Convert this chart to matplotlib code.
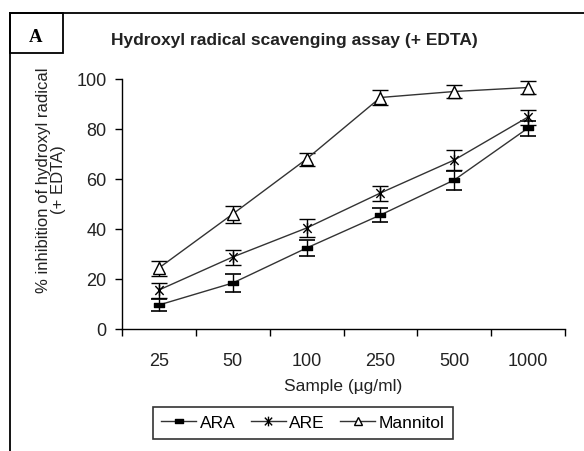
import matplotlib
matplotlib.use("Agg")
import matplotlib.pyplot as plt
from matplotlib.path import Path
from matplotlib.lines import Line2D
from matplotlib.patches import Rectangle

plt.rcParams['font.family'] = ['Liberation Sans', 'DejaVu Sans']

categories = ["25", "50", "100", "250", "500", "1000"]
ara = [9.6, 18.4, 32.4, 45.6, 59.6, 80.4]
ara_err = [2.4, 3.6, 3.2, 2.8, 3.8, 3.0]
are = [15.6, 28.8, 40.4, 54.4, 67.6, 84.8]
are_err = [3.0, 3.0, 3.6, 3.0, 4.0, 3.0]
mannitol = [24.4, 46.0, 68.0, 92.6, 95.0, 96.6]
mannitol_err = [3.0, 3.4, 2.6, 3.0, 2.6, 2.6]

title = "Hydroxyl radical scavenging assay (+ EDTA)"
ylabel = "% inhibition of hydroxyl radical\n(+ EDTA)"
xlabel = "Sample (\u00b5g/ml)"
yticks = [0, 20, 40, 60, 80, 100]

W, H = 584, 451
fig = plt.figure(figsize=(W / 100, H / 100), dpi=100)

ax = fig.add_axes([122 / W, 1 - 329 / H, (565 - 122) / W, (329 - 79) / H])

x = list(range(len(categories)))

bar_marker = Path([(-1, -0.4), (1, -0.4), (1, 0.4), (-1, 0.4), (-1, -0.4)],
                  [Path.MOVETO, Path.LINETO, Path.LINETO, Path.LINETO, Path.CLOSEPOLY])
star_marker = Path([(0, -1), (0, 1), (-0.75, -0.8), (0.75, 0.8), (-0.75, 0.8), (0.75, -0.8)],
                   [Path.MOVETO, Path.LINETO, Path.MOVETO, Path.LINETO, Path.MOVETO, Path.LINETO])

line_c = "#333333"
common = dict(color=line_c, lw=1.0, ecolor="black", elinewidth=1.0, capsize=5.5, capthick=1.2)

ax.errorbar(x, ara, yerr=ara_err, marker=bar_marker, ms=7, mfc="black", mec="black",
            label="ARA", **common)
ax.errorbar(x, are, yerr=are_err, marker=star_marker, ms=8, mfc="none", mec="black", mew=1.0,
            label="ARE", **common)
ax.errorbar(x, mannitol, yerr=mannitol_err, marker="^", ms=8, mfc="white", mec="black", mew=1.0,
            label="Mannitol", **common)

ax.set_xlim(-0.5, len(categories) - 0.5)
ax.set_ylim(0, 100)
ax.set_xticks([i - 0.5 for i in range(len(categories) + 1)])
ax.set_xticklabels([])
ax.set_xticks(x, minor=True)
ax.set_xticklabels(categories, minor=True)
ax.tick_params(axis="x", which="major", direction="out", length=5, width=1, color="black")
ax.tick_params(axis="x", which="minor", length=0, pad=17, labelsize=13, labelcolor="#222222")
ax.set_yticks(yticks)
ax.tick_params(axis="y", direction="out", length=5, width=1, labelsize=13, labelcolor="#222222", pad=6)
for s in ["top", "right"]:
    ax.spines[s].set_visible(False)
for s in ["left", "bottom"]:
    ax.spines[s].set_linewidth(1.0)

fig.text(294 / W, 1 - 41 / H, title, ha="center", va="center", fontsize=12.5,
         fontweight="bold", color="#222222")
fig.text(51 / W, 1 - 180 / H, ylabel, ha="center", va="center", rotation=90,
         fontsize=12, color="#222222", linespacing=1.05)
fig.text(343 / W, 1 - 387 / H, xlabel, ha="center", va="center", fontsize=12.5, color="#222222")

handles = [
    Line2D([], [], color=line_c, lw=1.0, marker=bar_marker, ms=6, mfc="black", mec="black"),
    Line2D([], [], color=line_c, lw=1.0, marker=star_marker, ms=7, mfc="none", mec="black"),
    Line2D([], [], color=line_c, lw=1.0, marker="^", ms=6, mfc="white", mec="black"),
]
leg = fig.legend(handles, ["ARA", "ARE", "Mannitol"], loc="center",
                 bbox_to_anchor=(303 / W, 1 - 423 / H), ncol=3, frameon=True, fancybox=False,
                 edgecolor="black", fontsize=12.5, handlelength=2.0, handletextpad=0.2,
                 columnspacing=0.9, borderpad=0.5)
leg.get_frame().set_linewidth(1.2)

# outer frame lines and panel label box
fig.add_artist(Line2D([10 / W, 10 / W], [0, 1 - 13 / H], transform=fig.transFigure,
                      color="black", lw=1.3))
fig.add_artist(Line2D([10 / W, 1], [1 - 13 / H, 1 - 13 / H], transform=fig.transFigure,
                      color="black", lw=1.3))
fig.add_artist(Rectangle((10 / W, 1 - 53 / H), 53 / W, 40 / H, transform=fig.transFigure,
                         fill=False, edgecolor="black", lw=1.3))
fig.text(36 / W, 1 - 38 / H, "A", ha="center", va="center", fontsize=13.5,
         fontweight="bold", family=["Liberation Serif", "DejaVu Serif"])

fig.savefig("out.png", dpi=100)
